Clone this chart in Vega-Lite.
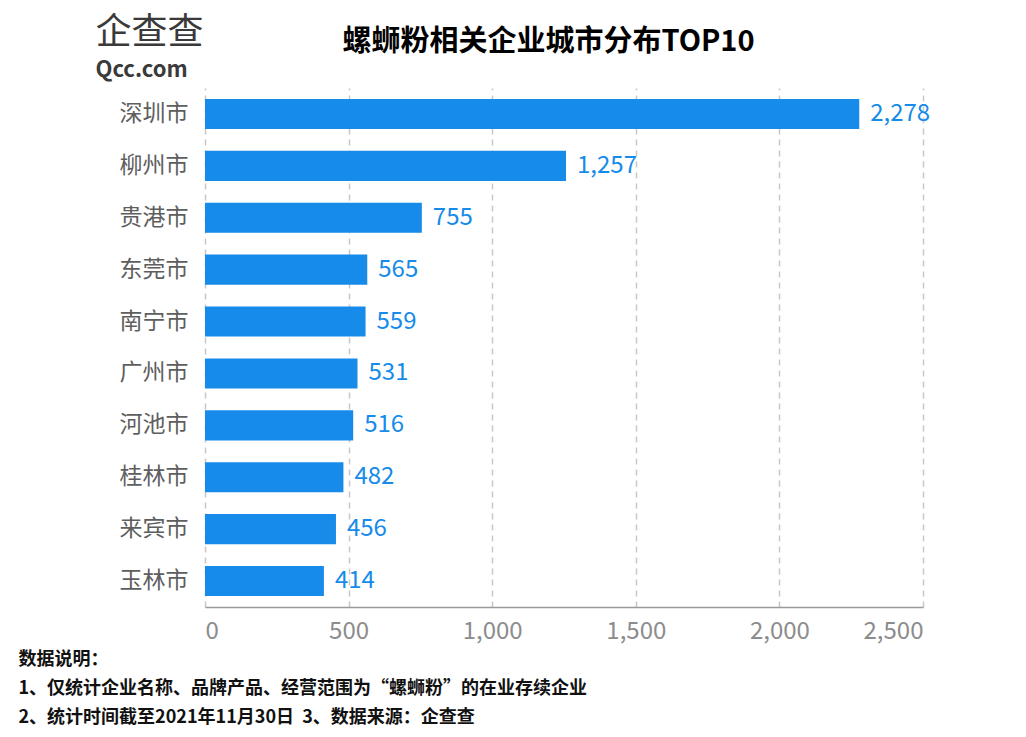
{
  "$schema": "https://vega.github.io/schema/vega-lite/v6.json",
  "width": 718,
  "height": 519,
  "autosize": "none",
  "padding": {"left": 205, "top": 88, "right": 103, "bottom": 130},
  "background": "white",
  "config": {"view": {"stroke": null}, "font": "Noto Sans CJK SC"},
  "data": {
    "values": [
      {"city": "深圳市", "count": 2278},
      {"city": "柳州市", "count": 1257},
      {"city": "贵港市", "count": 755},
      {"city": "东莞市", "count": 565},
      {"city": "南宁市", "count": 559},
      {"city": "广州市", "count": 531},
      {"city": "河池市", "count": 516},
      {"city": "桂林市", "count": 482},
      {"city": "来宾市", "count": 456},
      {"city": "玉林市", "count": 414}
    ]
  },
  "layer": [
    {
      "mark": {"type": "bar", "color": "#168be9"},
      "encoding": {
        "y": {
          "field": "city",
          "type": "nominal",
          "sort": "-x",
          "scale": {"paddingInner": 0.42, "paddingOuter": 0.21},
          "axis": {
            "title": "企查查",
            "titleAngle": 0,
            "titleAlign": "left",
            "titleBaseline": "alphabetic",
            "titleX": -110,
            "titleY": -45,
            "titleFontSize": 36,
            "titleFontWeight": "normal",
            "titleColor": "#3a3a3a",
            "labelFontSize": 23,
            "labelColor": "#5e5e5e",
            "labelPadding": 17,
            "ticks": false,
            "domain": false,
            "grid": false
          }
        },
        "x": {
          "field": "count",
          "type": "quantitative",
          "scale": {"domain": [0, 2500], "nice": false},
          "axis": {
            "values": [0, 500, 1000, 1500, 2000, 2500],
            "format": ",.0f",
            "domain": true,
            "domainColor": "#9a9a9a",
            "domainWidth": 1.5,
            "ticks": false,
            "labelFontSize": 24,
            "labelColor": "#8c8c8c",
            "labelPadding": 12,
            "grid": true,
            "gridDash": [6, 5],
            "gridColor": "#c8c8c8",
            "gridWidth": 1.5,
            "title": ["数据说明：", "1、仅统计企业名称、品牌产品、经营范围为“螺蛳粉”的在业存续企业", "2、统计时间截至2021年11月30日\u00a0\u00a03、数据来源：企查查"],
            "titleAlign": "left",
            "titleAnchor": "start",
            "titleBaseline": "top",
            "titleX": -187,
            "titleY": 43,
            "titleFontSize": 18,
            "titleFontWeight": "bold",
            "titleColor": "#111111",
            "titleLineHeight": 29
          }
        }
      }
    },
    {
      "mark": {"type": "text", "align": "left", "baseline": "middle", "dx": 11, "fontSize": 24, "color": "#168be9"},
      "encoding": {
        "y": {
          "field": "city",
          "type": "nominal",
          "sort": "-x",
          "axis": {
            "orient": "right",
            "title": "Qcc.com",
            "titleAngle": 0,
            "titleAlign": "left",
            "titleBaseline": "alphabetic",
            "titleX": -828,
            "titleY": -12,
            "titleFontSize": 22,
            "titleFontWeight": "bold",
            "titleColor": "#3a3a3a",
            "labels": false,
            "ticks": false,
            "domain": false,
            "grid": false
          }
        },
        "x": {
          "field": "count",
          "type": "quantitative",
          "scale": {"domain": [0, 2500], "nice": false},
          "axis": {
            "orient": "top",
            "domain": false,
            "ticks": false,
            "labels": false,
            "grid": false,
            "title": "螺蛳粉相关企业城市分布TOP10",
            "titleAlign": "center",
            "titleAnchor": "start",
            "titleBaseline": "alphabetic",
            "titleX": 343,
            "titleY": -38,
            "titleFontSize": 29,
            "titleFontWeight": "bold",
            "titleColor": "#000000"
          }
        },
        "text": {"field": "count", "type": "quantitative", "format": ","}
      }
    }
  ],
  "resolve": {"axis": {"x": "independent", "y": "independent"}}
}
